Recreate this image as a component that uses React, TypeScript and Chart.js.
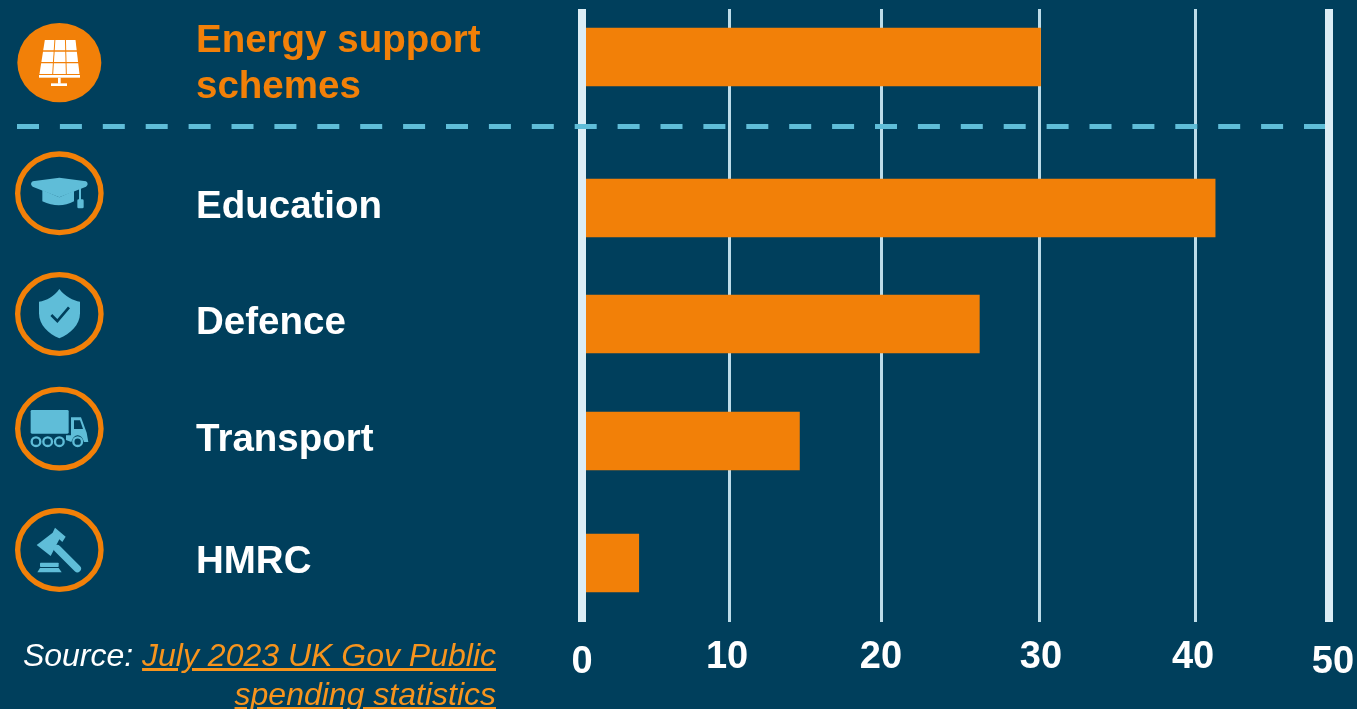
import React, { useEffect, useRef } from "react";
import { Chart, registerables, LinearScale, CategoryScale } from "chart.js";

// Spending by department, £bn
const departments = [
  ["Energy support", "schemes"],
  "Education",
  "Defence",
  "Transport",
  "HMRC",
];
const spending = [30.1, 41.5, 26.2, 14.6, 3.9];
const axisTicks = [0, 10, 20, 30, 40, 50];

const NAVY = "#003f5c";
const ORANGE = "#f28008";
const SKY = "#5fbdd8";
const RULE = "#dcedf5";
const GRID = "#bcdce9";
const FONT = '"Liberation Sans", Arial, sans-serif';

// Where each decade and each row sits along its axis, as a share of the plot.
const DECADE_STOPS = [0, 0.198, 0.4024, 0.6123, 0.8209, 1];
const ROW_STOPS = [0.0783, 0.3246, 0.5139, 0.7047, 0.9038];
const ROW_LABEL_NUDGE = [7, -1, -1, -1, -1];
const TICK_LABEL_NUDGE = [
  [1, 5],
  [-2, 0],
  [-1, 0],
  [2, 0],
  [-2, 0],
  [4, 5],
];
const DIVIDER_Y = 126.5;
const DIVIDER_START = 17;
const NO_PADDING = { left: 0, top: 0, right: 0, bottom: 0 };

// Linear axis whose decades have individually set widths.
class SteppedLinearScale extends LinearScale {
  static id = "steppedLinear";
  static defaults = {};
  getPadding() {
    return NO_PADDING;
  }
  getPixelForValue(value: number) {
    const step = this.max / (DECADE_STOPS.length - 1);
    const i = Math.min(Math.floor(value / step), DECADE_STOPS.length - 2);
    const share =
      DECADE_STOPS[i] + ((value - i * step) / step) * (DECADE_STOPS[i + 1] - DECADE_STOPS[i]);
    return this.left + share * this.width;
  }
  _computeLabelItems(area: any) {
    const items = super._computeLabelItems(area);
    items.forEach((item: any, i: number) => {
      item.options.translation[0] += TICK_LABEL_NUDGE[i][0];
      item.options.translation[1] += TICK_LABEL_NUDGE[i][1];
    });
    return items;
  }
}

// Category axis with a larger gap under the first row.
class SpacedRowScale extends CategoryScale {
  static id = "spacedRows";
  static defaults = {};
  getPadding() {
    return NO_PADDING;
  }
  getPixelForValue(value: any) {
    const i = typeof value === "number" ? value : this.parse(value);
    return this.top + ROW_STOPS[i] * this.height;
  }
  _computeLabelItems(area: any) {
    const items = super._computeLabelItems(area);
    items.forEach((item: any, i: number) => {
      item.options.translation[1] += ROW_LABEL_NUDGE[i];
    });
    return items;
  }
  // The thick zero line stops flush with the plot and sits just right of the value 0.
  drawBorder() {
    const { ctx, top, bottom } = this;
    ctx.save();
    ctx.beginPath();
    ctx.rect(0, top, ctx.canvas.width, bottom - top);
    ctx.clip();
    ctx.translate(1, 0);
    super.drawBorder();
    ctx.restore();
  }
}

const dividerPlugin = {
  id: "divider",
  afterDraw(chart: any) {
    const { ctx, chartArea } = chart;
    ctx.save();
    ctx.strokeStyle = SKY;
    ctx.lineWidth = 5;
    ctx.setLineDash([22, 20.9]);
    ctx.beginPath();
    ctx.moveTo(DIVIDER_START, DIVIDER_Y);
    ctx.lineTo(chartArea.right - 4, DIVIDER_Y);
    ctx.stroke();
    ctx.restore();
  },
};

Chart.register(...registerables, SteppedLinearScale, SpacedRowScale);

function SolarPanel() {
  const rows = [[120, 151], [155, 186], [190, 222]];
  const left = (y: number) => 133 - ((y - 120) * 16) / 102;
  const right = (y: number) => 228 + ((y - 120) * 12) / 102;
  const cells: string[] = [];
  rows.forEach(([a, b]) => {
    for (let c = 0; c < 3; c++) {
      const at = (y: number, k: number) => left(y) + ((right(y) - left(y)) * k) / 3;
      cells.push(
        `${at(a, c) + 1.5},${a} ${at(a, c + 1) - 1.5},${a} ${at(b, c + 1) - 1.5},${b} ${at(b, c) + 1.5},${b}`
      );
    }
  });
  return (
    <g fill="#fff">
      {cells.map((p) => (
        <polygon key={p} points={p} />
      ))}
      <rect x="117" y="225" width="123" height="8" />
      <rect x="174" y="233" width="8" height="18" />
      <rect x="153" y="250" width="48" height="8" />
    </g>
  );
}

function Icons() {
  const ring = { cx: 178, rx: 125, ry: 118, fill: "none", stroke: ORANGE, strokeWidth: 16 };
  return (
    <svg
      width={130}
      height={600}
      viewBox="0 0 390 1800"
      style={{ position: "absolute", left: 0, top: 0 }}
    >
      <ellipse cx={178} cy={188} rx={126} ry={119} fill={ORANGE} />
      <SolarPanel />

      <ellipse {...ring} cy={580} />
      <g fill={SKY}>
        <path d="M178 533 L258 544 Q268 552 258 560 L178 592 L98 560 Q88 552 98 544 Z" />
        <path d="M127 570 L178 592 L222 572 L222 604 Q178 628 127 604 Z" />
        <rect x="237" y="560" width="6" height="40" />
        <rect x="232" y="598" width="19" height="27" rx="4" />
      </g>

      <g transform="translate(0 780)">
        <ellipse {...ring} cy={162} />
        <path
          fill={SKY}
          d="M178 87 C195 110 220 122 240 125 L240 160 C240 195 210 222 178 235 C146 222 117 195 117 160 L117 125 C140 122 162 110 178 87 Z"
        />
        <polyline points="154,165 172,183 207,142" fill="none" stroke={NAVY} strokeWidth="8" />

        <ellipse {...ring} cy={506} />
        <g fill={SKY}>
          <rect x="92" y="450" width="114" height="71" rx="4" />
          <path d="M213 472 L243 472 L260 518 L265 546 L252 546 Q246 526 233 526 Q220 526 214 546 L198 540 L198 526 L213 526 Z" />
        </g>
        <path d="M222 481 L240 481 L249 507 L222 507 Z" fill={NAVY} />
        <g fill="none" stroke={SKY} strokeWidth="7">
          <circle cx="108" cy="545" r="13" />
          <circle cx="143" cy="545" r="13" />
          <circle cx="178" cy="545" r="13" />
          <circle cx="233" cy="545" r="13" />
        </g>

        <ellipse {...ring} cy={870} />
        <g fill={SKY}>
          <polygon points="165,803 197,830 187,846 178,838 152,888 110,855 122,846 158,818" />
          <rect x="120" y="908" width="56" height="13" rx="2" />
          <polygon points="120,924 176,924 185,937 112,937" />
        </g>
        <line x1="172" y1="866" x2="232" y2="926" stroke={SKY} strokeWidth="22" strokeLinecap="round" />
      </g>
    </svg>
  );
}

export default function App() {
  const canvasRef = useRef<HTMLCanvasElement>(null);

  useEffect(() => {
    const chart = new Chart(canvasRef.current!, {
      type: "bar",
      data: {
        labels: departments as any,
        datasets: [{ data: spending, backgroundColor: ORANGE, barThickness: 58 }],
      },
      plugins: [dividerPlugin],
      options: {
        indexAxis: "y",
        animation: false,
        responsive: false,
        layout: { padding: { top: 9, left: 196, right: 28, bottom: 0 } },
        plugins: { legend: { display: false }, tooltip: { enabled: false } },
        scales: {
          x: {
            type: "steppedLinear" as any,
            min: 0,
            max: 50,
            afterFit: (s: any) => {
              s.height = 87;
            },
            afterBuildTicks: (s: any) => {
              s.ticks = axisTicks.map((value) => ({ value }));
            },
            border: { display: false },
            grid: {
              drawTicks: false,
              color: (c: any) => (c.tick && c.tick.value === 50 ? RULE : GRID),
              lineWidth: (c: any) => (c.tick && c.tick.value === 50 ? 8 : 3),
            },
            ticks: {
              padding: 13,
              color: "#fff",
              maxRotation: 0,
              autoSkip: false,
              font: { family: FONT, size: 38, weight: "bold" },
            },
          },
          y: {
            type: "spacedRows" as any,
            afterFit: (s: any) => {
              s.width = 385;
            },
            grid: { display: false, drawTicks: false },
            border: { display: true, color: RULE, width: 8, z: 1 },
            ticks: {
              crossAlign: "far",
              autoSkip: false,
              padding: 0,
              color: (c: any) => (c.index === 0 ? ORANGE : "#fff"),
              font: { family: FONT, size: 38.5, weight: "bold", lineHeight: 1.2 },
            },
          },
        },
      } as any,
    });
    return () => chart.destroy();
  }, []);

  return (
    <div
      style={{
        position: "fixed",
        left: 0,
        top: 0,
        width: 1357,
        height: 709,
        overflow: "hidden",
        background: NAVY,
      }}
    >
      <canvas ref={canvasRef} width={1357} height={709} style={{ display: "block" }} />
      <Icons />
      <div
        style={{
          position: "absolute",
          right: 861,
          top: 636,
          width: 500,
          textAlign: "right",
          font: `italic 32px/39px ${FONT}`,
          color: "#fff",
        }}
      >
        Source:{" "}
        <a href="#spending" style={{ color: "#f7941d", textDecoration: "underline" }}>
          July 2023 UK Gov Public spending statistics
        </a>
      </div>
    </div>
  );
}
